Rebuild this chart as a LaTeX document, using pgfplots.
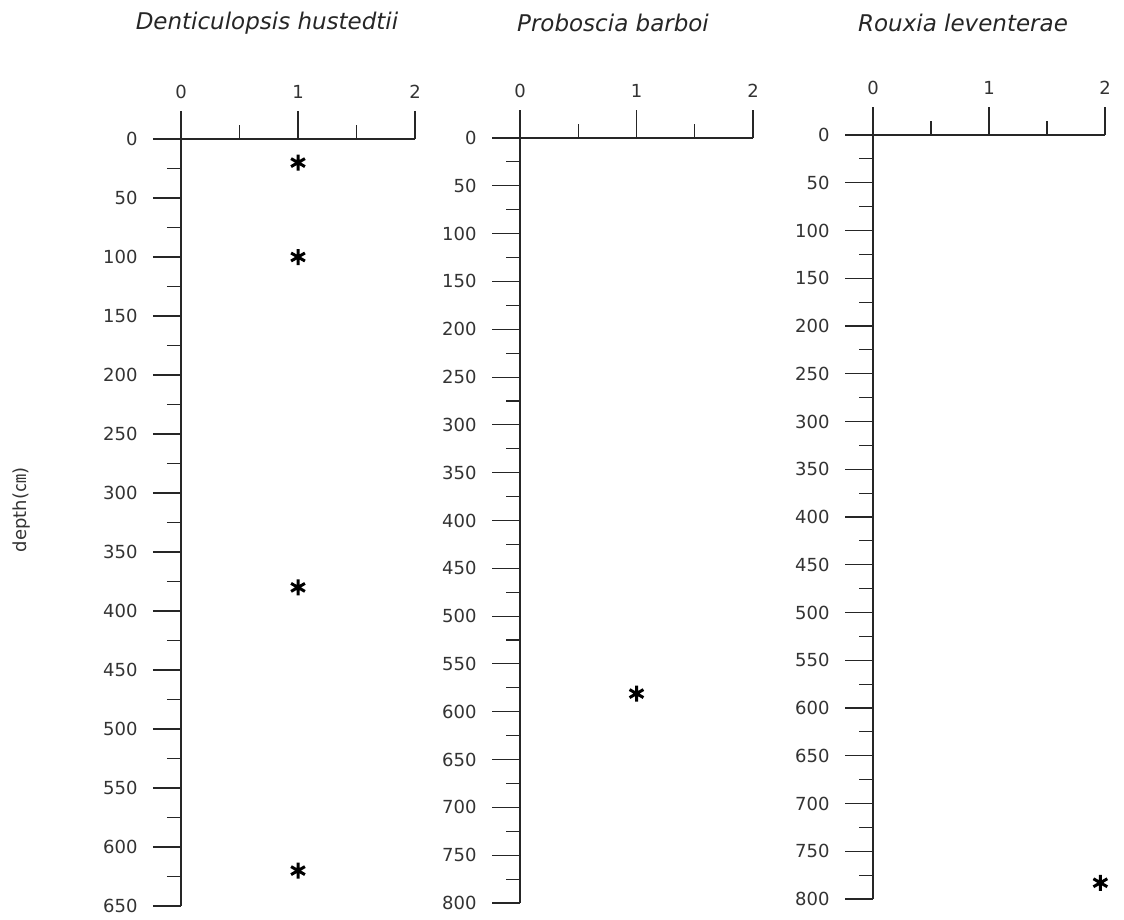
\documentclass[border=0pt]{standalone}
\usepackage{pgfplots}
\pgfplotsset{compat=1.18}
\usepackage{fontspec}
\setmainfont{DejaVu Sans}
\newfontfamily\cjk{Noto Sans CJK KR}
\begin{document}
\begin{tikzpicture}[x=1pt,y=1pt]
\useasboundingbox (0,0) rectangle (1124,919);
\pgfplotsset{
 panel/.style={
  scale only axis, y dir=reverse,
  axis x line=top, axis y line=left,
  axis line style={-, line width=1.1pt, draw=black!85},
  xmin=0, xmax=2, ymin=0,
  xtick={0,1,2}, minor xtick={0.5,1.5},
  tick align=outside, major tick length=28pt, minor tick length=14pt,
  every tick/.style={black!85, line width=1.1pt},
  ticklabel style={font=\fontsize{18}{20}\selectfont, text=black!80},
  xticklabel style={yshift=9pt},
  yticklabel style={xshift=-12pt},
  /pgf/number format/assume math mode=true,
  anchor=origin, clip=false,
 },
 star/.style={only marks, mark=asterisk, mark size=8pt, mark options={line width=3pt, black}},
}
% Panel 1
\begin{axis}[panel, at={(181pt,780pt)}, width=234pt, height=767pt, ymax=650,
  ytick={0,50,...,650}, minor ytick={25,75,...,625}]
\addplot[star] coordinates {(1,20) (1,100) (1,380) (1,620)};
\end{axis}
% Panel 2
\begin{axis}[panel, at={(520pt,781pt)}, width=233pt, height=765pt, ymax=800,
  ytick={0,50,...,800}, minor ytick={25,75,...,775}]
\addplot[star] coordinates {(1,581)};
\end{axis}
% Panel 3
\begin{axis}[panel, at={(873pt,784pt)}, width=232pt, height=764pt, ymax=800,
  ytick={0,50,...,800}, minor ytick={25,75,...,775}]
\addplot[star] coordinates {(1.96,783)};
\end{axis}
\node[font=\itshape\fontsize{23}{26}\selectfont, text=black!85] at (267,896) {Denticulopsis hustedtii};
\node[font=\itshape\fontsize{23}{26}\selectfont, text=black!85] at (613,896) {Proboscia barboi};
\node[font=\itshape\fontsize{23}{26}\selectfont, text=black!85] at (963,896) {Rouxia leventerae};
\node[rotate=90, font=\fontsize{18}{20}\selectfont, text=black!80] at (22,409) {depth({\cjk ㎝})};
\end{tikzpicture}
\end{document}
